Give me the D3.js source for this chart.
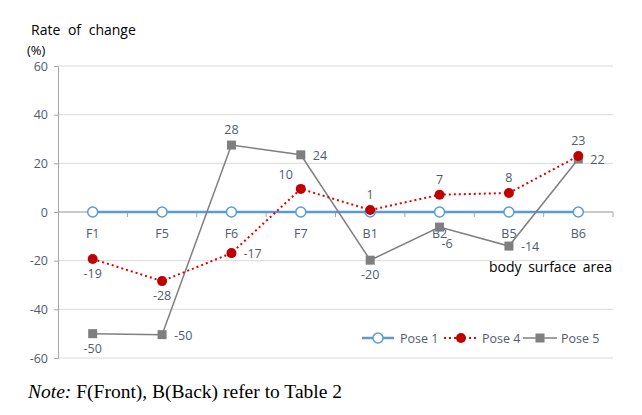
<!DOCTYPE html>
<html><head><meta charset="utf-8">
<script src="https://cdn.jsdelivr.net/npm/d3@7"></script>
<style>body{margin:0;background:#fff}svg{display:block}</style>
</head><body><svg id="c" width="642" height="415"></svg>
<script>
const categories = ["F1","F5","F6","F7","B1","B2","B5","B6"];
const pose1 = [0,0,0,0,0,0,0,0];
const pose4 = [-19.3,-28.4,-16.9,9.5,0.8,7.1,7.8,23];
const pose5 = [-50,-50.4,27.5,23.5,-19.8,-6.2,-14,21.8];
const pose4Labels = ["-19","-28","-17","10","1","7","8","23"];
const pose5Labels = ["-50","-50","28","24","-20","-6","-14","22"];
const yTicks = [60,40,20,0,-20,-40,-60];
const seriesNames = ["Pose 1","Pose 4","Pose 5"];
// label placement (style)
const pose4Place = ["below","below","right","aboveLeft","above","above","above","above"];
const pose5Place = ["below","right","above","right","below","belowRight","right","right"];

const svg = d3.select("#c");
const L=58,R=613,T=66,B=358;
const x = d3.scalePoint().domain(categories).range([L,R]).padding(0.5);
const xb = d3.scaleBand().domain(categories).range([L,R]);
const y = d3.scaleLinear().domain([-60,60]).range([B,T]);
const font = "'Open Sans','Noto Sans',sans-serif";
const tickCol = "#4f5b6e";

// gridlines
svg.append("g").selectAll("line").data(yTicks).join("line")
  .attr("x1",L).attr("x2",R).attr("y1",d=>y(d)).attr("y2",d=>y(d))
  .attr("stroke","#d9d9d9").attr("stroke-width",1);
// y axis
const ya = svg.append("g").attr("transform",`translate(${L},0)`)
  .call(d3.axisLeft(y).tickValues(yTicks).tickFormat(d=>String(d)).tickSize(4).tickPadding(6));
ya.select(".domain").attr("stroke","#a6a6a6");
ya.selectAll(".tick line").attr("stroke","#a6a6a6");
ya.selectAll("text").attr("font-family",font).attr("font-size",12.5).attr("fill",tickCol);
// x axis on zero line
const xa = svg.append("g").attr("transform",`translate(0,${y(0)})`);
xa.append("line").attr("x1",L).attr("x2",R).attr("stroke","#a6a6a6");
const bounds = categories.map(c=>xb(c)).concat([R]);
xa.selectAll(".tk").data(bounds.slice(1)).join("line").attr("class","tk")
  .attr("x1",d=>d).attr("x2",d=>d).attr("y1",0).attr("y2",5).attr("stroke","#a6a6a6");
xa.selectAll("text").data(categories).join("text")
  .attr("x",d=>x(d)).attr("y",26).attr("text-anchor","middle")
  .attr("font-family",font).attr("font-size",12.5).attr("fill",tickCol).text(d=>d);

const line = d3.line().x((d,i)=>x(categories[i])).y(d=>y(d));
// Pose 1
svg.append("path").datum(pose1).attr("d",line).attr("fill","none").attr("stroke","#5b9bd5").attr("stroke-width",2.5);
// Pose 5
svg.append("path").datum(pose5).attr("d",line).attr("fill","none").attr("stroke","#7f7f7f").attr("stroke-width",1.5);
// Pose 4
svg.append("path").datum(pose4).attr("d",line).attr("fill","none").attr("stroke","#e00000").attr("stroke-width",2).attr("stroke-dasharray","2,3");

svg.append("g").selectAll("circle").data(pose1).join("circle")
  .attr("cx",(d,i)=>x(categories[i])).attr("cy",d=>y(d)).attr("r",5)
  .attr("fill","#fff").attr("stroke","#5b9bd5").attr("stroke-width",1.5);
svg.append("g").selectAll("rect").data(pose5).join("rect")
  .attr("x",(d,i)=>x(categories[i])-4.5).attr("y",d=>y(d)-4.5).attr("width",9).attr("height",9)
  .attr("fill","#7f7f7f");
svg.append("g").selectAll("circle").data(pose4).join("circle")
  .attr("cx",(d,i)=>x(categories[i])).attr("cy",d=>y(d)).attr("r",5)
  .attr("fill","#c00000");

function offs(p){
  switch(p){
    case "below": return [0,19,"middle"];
    case "above": return [0,-11,"middle"];
    case "aboveLeft": return [-8,-10,"end"];
    case "right": return [12,5,"start"];
    case "belowRight": return [2,21,"start"];
  }
}
function labels(vals,labs,place){
  svg.append("g").selectAll("text").data(vals).join("text")
    .attr("x",(d,i)=>x(categories[i])+offs(place[i])[0])
    .attr("y",(d,i)=>y(d)+offs(place[i])[1])
    .attr("text-anchor",(d,i)=>offs(place[i])[2])
    .attr("font-family",font).attr("font-size",12.5).attr("fill",tickCol)
    .text((d,i)=>labs[i]);
}
labels(pose4,pose4Labels,pose4Place);
labels(pose5,pose5Labels,pose5Place);

// titles
svg.append("text").attr("x",31).attr("y",35).attr("font-family",font).attr("font-size",14).attr("word-spacing",4).attr("fill","#000").text("Rate of change");
svg.append("text").attr("x",27).attr("y",55).attr("font-family",font).attr("font-size",13).attr("fill","#000").text("(%)");
svg.append("text").attr("x",612).attr("y",272).attr("text-anchor","end").attr("font-family",font).attr("font-size",14).attr("word-spacing",3).attr("fill","#000").text("body surface area");

// legend
const lg = svg.append("g").attr("transform","translate(0,338)");
const legX = [362,444,523];
seriesNames.forEach((n,i)=>{
  const g = lg.append("g").attr("transform",`translate(${legX[i]},0)`);
  if(i===0){
    g.append("line").attr("x1",0).attr("x2",32).attr("stroke","#5b9bd5").attr("stroke-width",2.5);
    g.append("circle").attr("cx",16).attr("r",5).attr("fill","#fff").attr("stroke","#5b9bd5").attr("stroke-width",1.5);
  } else if(i===1){
    g.append("line").attr("x1",0).attr("x2",34).attr("stroke","#e00000").attr("stroke-width",2).attr("stroke-dasharray","2,3");
    g.append("circle").attr("cx",17).attr("r",5).attr("fill","#c00000");
  } else {
    g.append("line").attr("x1",0).attr("x2",34).attr("stroke","#7f7f7f").attr("stroke-width",1.5);
    g.append("rect").attr("x",12.5).attr("y",-4.5).attr("width",9).attr("height",9).attr("fill","#7f7f7f");
  }
  g.append("text").attr("x",38).attr("y",4.5).attr("font-family",font).attr("font-size",12.5).attr("fill",tickCol).text(n);
});

// note
const note = svg.append("text").attr("x",28).attr("y",398).attr("font-family","'Liberation Serif','Times New Roman',serif").attr("font-size",19.5).attr("fill","#000");
note.append("tspan").attr("font-style","italic").text("Note:");
note.append("tspan").text(" F(Front), B(Back) refer to Table 2");
</script></body></html>
